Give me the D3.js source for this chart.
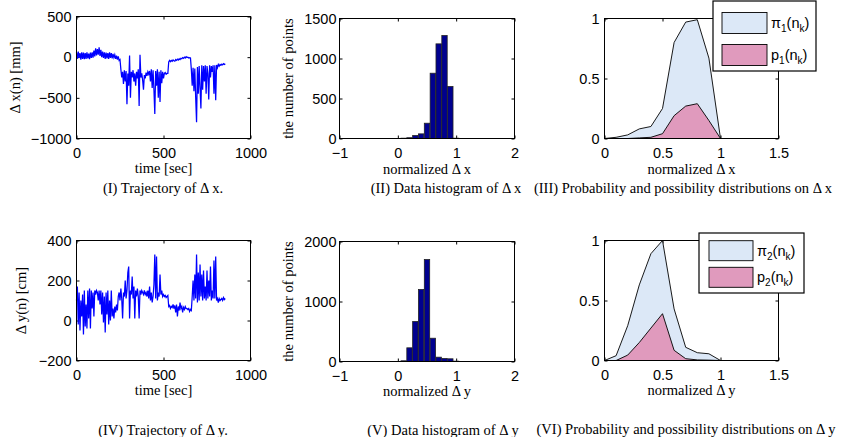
<!DOCTYPE html>
<html><head><meta charset="utf-8">
<script src="https://cdn.jsdelivr.net/npm/d3@7"></script>
<style>body{margin:0;background:#fff}svg{display:block}</style>
</head><body>
<svg id="c" width="848" height="437"></svg>
<script>
// ---------------- DATA ----------------
const timeStep = 5; // seconds between samples
const dxTrajectory = [60,-20,70,-10,50,-30,60,-20,55,-25,50,-20,60,-15,45,-25,55,-10,60,-5,
 80,10,110,20,100,30,120,15,90,0,70,
 -10,60,-20,55,-15,50,-20,60,-10,50,-15,40,-5,30,-20,20,-30,10,-40,-30,
 -150,-250,-180,-330,-160,-300,-170,-580,-200,-350,20,-500,-180,-250,-160,-300,-200,-350,-180,-260,-150,-600,30,
 -250,-200,-280,-400,-220,-260,-190,-230,-180,-210,-170,-300,-150,-380,-160,-400,-700,-170,-350,-150,-500,-180,-550,-160,-320,-180,
 -260,-200,-190,-210,-200,-200,
 -60,-40,-55,-40,-50,-35,-45,-50,-30,-40,-25,-35,-20,-30,-15,-20,-5,-15,0,-10,5,-5,0,-10,-5,-10,
 -150,-350,-130,-420,-140,-500,-800,-120,-450,-110,-380,-630,-100,-400,-110,-300,-100,-450,-110,-200,-520,-100,-250,-110,-180,-100,-450,-100,-530,
 -95,-130,-90,-110,-90,-100,-85,-95,-80,-90,-80];
const dyTrajectory = [100,170,-20,140,-50,100,20,130,-70,150,-30,80,-40,150,10,160,-40,150,60,140,
 20,150,130,150,140,100,150,80,150,30,140,
 -10,120,-60,140,30,150,-20,100,0,150,20,60,10,70,40,80,50,
 120,140,100,160,110,10,140,120,200,110,150,240,270,10,150,130,220,110,170,10,150,120,160,120,10,150,
 130,150,140,130,150,130,140,120,150,110,170,100,140,90,120,180,330,110,320,100,140,120,230,130,150,120,
 130,120,125,115,120,125,
 70,75,60,70,65,80,60,75,40,80,20,70,50,90,60,70,40,65,55,70,60,60,55,60,45,55,50,
 120,200,100,230,110,330,90,240,100,280,120,230,100,250,110,170,100,250,110,200,120,270,100,150,110,300,110,320,
 100,110,90,110,100,105,110,100,115,105,110];

const histBinCenters = [0.1,0.2,0.3,0.4,0.5,0.6,0.7,0.8,0.9,1.0];
const histCountsX = [4,10,37,58,191,816,1183,1287,650,4];
const histCountsY = [12,228,667,1200,1700,388,72,50,45,6];

const distX = [0,0.1,0.2,0.3,0.4,0.5,0.6,0.7,0.8,0.9,1.0,1.1];
const possibilityX = [0,0.01,0.03,0.08,0.1,0.25,0.8,0.97,0.99,0.67,0,0];
const probabilityX = [0,0,0,0.005,0.01,0.04,0.19,0.27,0.29,0.15,0,0];
const possibilityY = [0,0.04,0.29,0.63,0.89,1.0,0.43,0.11,0.065,0.056,0,0];
const probabilityY = [0,0,0.045,0.15,0.27,0.39,0.085,0.015,0.005,0.003,0,0];

const trajTicksX = [0,500,1000];
const trajTicksYx = [500,0,-500,-1000];
const trajTicksYy = [400,200,0,-200];
const histTicksX = [-1,0,1,2];
const histTicksYx = [0,500,1000,1500];
const histTicksYy = [0,1000,2000];
const distTicksX = [0,0.5,1,1.5];
const distTicksY = [0,0.5,1];

// ---------------- DRAW ----------------
const svg = d3.select('#c');
const SANS = '"Liberation Sans", Arial, Helvetica, sans-serif';
const SERIF = '"Liberation Serif", "Times New Roman", serif';
const FS = 14.5;
const FSS = 14.5;
const fmt = d => (d < 0 ? '\u2212' : '') + Math.abs(d);

function frame(box, xd, yd, xt, yt, padL) {
  const x = d3.scaleLinear().domain(xd).range([box.x0, box.x1]);
  const y = d3.scaleLinear().domain(yd).range([box.y1, box.y0]);
  const g = svg.append('g');
  const style = sel => {
    sel.select('.domain').remove();
    sel.selectAll('line').attr('stroke', '#000');
    sel.selectAll('text').attr('font-family', SANS).attr('font-size', FS).attr('fill', '#000');
  };
  g.append('g').attr('transform', `translate(0,${box.y1})`)
    .call(d3.axisBottom(x).tickValues(xt).tickSize(-3).tickPadding(9).tickFormat(fmt)).call(style);
  g.append('g').attr('transform', `translate(0,${box.y0})`)
    .call(d3.axisTop(x).tickValues(xt).tickSize(-3).tickFormat('')).call(style);
  g.append('g').attr('transform', `translate(${box.x0},0)`)
    .call(d3.axisLeft(y).tickValues(yt).tickSize(-3).tickPadding(padL).tickFormat(fmt)).call(style);
  g.append('g').attr('transform', `translate(${box.x1},0)`)
    .call(d3.axisRight(y).tickValues(yt).tickSize(-3).tickFormat('')).call(style);
  return {x, y, g};
}
function box(sel, b) {
  svg.append('rect').attr('x', b.x0).attr('y', b.y0).attr('width', b.x1 - b.x0).attr('height', b.y1 - b.y0)
    .attr('fill', 'none').attr('stroke', '#000').attr('stroke-width', 1);
}
function serifText(x, y, txt, rot) {
  const t = svg.append('text').attr('font-family', SERIF).attr('font-size', FSS).attr('fill', '#000')
    .attr('text-anchor', 'middle').text(txt);
  if (rot) t.attr('transform', `translate(${x},${y}) rotate(-90)`).attr('dominant-baseline', 'central');
  else t.attr('x', x).attr('y', y);
}

// Trajectory panels
function trajectory(b, data, yd, yt, ylab, cap, rowY) {
  const {x, y} = frame(b, [0, 1000], yd, trajTicksX, yt, 5);
  svg.append('path').datum(data)
    .attr('d', d3.line().x((d, i) => x(i * timeStep)).y(d => y(d)))
    .attr('fill', 'none').attr('stroke', '#0000ff').attr('stroke-width', 1.25);
  box(svg, b);
  serifText((b.x0 + b.x1) / 2, rowY.xl, 'time [sec]');
  serifText(rowY.yl, (b.y0 + b.y1) / 2, ylab, true);
  serifText(163, rowY.cap, cap);
}
trajectory({x0: 76.5, x1: 250.5, y0: 16.5, y1: 138.5}, dxTrajectory, [-1000, 500], trajTicksYx,
  '\u0394 x(n) [mm]', '(I) Trajectory of \u0394 x.', {xl: 173, yl: 15, cap: 193});
trajectory({x0: 76.5, x1: 250.5, y0: 240.5, y1: 360.5}, dyTrajectory, [-200, 400], trajTicksYy,
  '\u0394 y(n) [cm]', '(IV) Trajectory of \u0394 y.', {xl: 395, yl: 21, cap: 435});

// Histogram panels
function histogram(b, counts, yd, yt, xlab, cap, rowY, capX) {
  const {x, y} = frame(b, [-1, 2], yd, histTicksX, yt, 3);
  const bw = (x(0.1) - x(0)) * 0.92;
  svg.append('line').attr('x1', x(-1)).attr('x2', x(2)).attr('y1', y(0)).attr('y2', y(0))
    .attr('stroke', '#000').attr('stroke-width', 1.2);
  svg.append('g').selectAll('rect').data(histBinCenters).join('rect')
    .attr('x', (d) => x(d) - bw / 2).attr('width', bw)
    .attr('y', (d, i) => y(counts[i])).attr('height', (d, i) => y(0) - y(counts[i]))
    .attr('fill', '#00008f').attr('stroke', '#222').attr('stroke-width', 0.8);
  box(svg, b);
  serifText((b.x0 + b.x1) / 2, rowY.xl, xlab);
  serifText(rowY.yl, (b.y0 + b.y1) / 2, 'the number of points', true);
  serifText(capX, rowY.cap, cap);
}
histogram({x0: 339.5, x1: 514.5, y0: 18.5, y1: 138.5}, histCountsX, [0, 1500], histTicksYx,
  'normalized \u0394 x', '(II) Data histogram of \u0394 x', {xl: 174, yl: 288, cap: 193}, 446);
histogram({x0: 339.5, x1: 514.5, y0: 241.5, y1: 361.5}, histCountsY, [0, 2000], histTicksYy,
  'normalized \u0394 y', '(V) Data histogram of \u0394 y', {xl: 396, yl: 288, cap: 435}, 443);

// Distribution panels
function distribution(b, poss, prob, xlab, cap, rowY, leg, idx) {
  const {x, y} = frame(b, [0, 1.5], [0, 1], distTicksX, distTicksY, 5);
  const area = d3.area().x((d, i) => x(distX[i])).y0(y(0)).y1(d => y(d));
  svg.append('path').datum(poss).attr('d', area).attr('fill', '#dce8f7').attr('stroke', '#000').attr('stroke-width', 0.9);
  svg.append('path').datum(prob).attr('d', area).attr('fill', '#e09abd').attr('stroke', '#000').attr('stroke-width', 0.9);
  box(svg, b);
  serifText((b.x0 + b.x1) / 2, rowY.xl, xlab);
  serifText(cap.x, rowY.cap, cap.t);
  // legend
  const lg = svg.append('g');
  lg.append('rect').attr('x', leg.x0).attr('y', leg.y0).attr('width', leg.x1 - leg.x0).attr('height', leg.y1 - leg.y0)
    .attr('fill', '#fff').attr('stroke', '#000').attr('stroke-width', 1.2);
  const entries = [{sym: '\u03c0', fill: '#dce8f7'}, {sym: 'p', fill: '#e09abd'}];
  entries.forEach((e, k) => {
    const cy = leg.cy[k];
    lg.append('rect').attr('x', leg.sx0).attr('y', cy - leg.sh / 2).attr('width', leg.sx1 - leg.sx0).attr('height', leg.sh)
      .attr('fill', e.fill).attr('stroke', '#000').attr('stroke-width', 0.9);
    const t = lg.append('text').attr('x', leg.tx).attr('y', cy + 5).attr('font-family', SANS).attr('font-size', FS).attr('fill', '#000');
    t.append('tspan').text(e.sym);
    t.append('tspan').attr('font-size', 10).attr('dy', 4).text(idx);
    t.append('tspan').attr('dy', -4).text('(n');
    t.append('tspan').attr('font-size', 10).attr('dy', 4).text('k');
    t.append('tspan').attr('dy', -4).text(')');
  });
}
distribution({x0: 604.5, x1: 778.5, y0: 18.5, y1: 138.5}, possibilityX, probabilityX, 'normalized \u0394 x',
  {x: 683, t: '(III) Probability and possibility distributions on \u0394 x'}, {xl: 174, cap: 193},
  {x0: 713, x1: 816, y0: 1, y1: 71, sx0: 722, sx1: 767, sh: 21, cy: [23, 55], tx: 771}, '1');
distribution({x0: 604.5, x1: 778.5, y0: 240.5, y1: 360.5}, possibilityY, probabilityY, 'normalized \u0394 y',
  {x: 686, t: '(VI) Probability and possibility distributions on \u0394 y'}, {xl: 395, cap: 434},
  {x0: 699, x1: 804, y0: 233, y1: 293, sx0: 709, sx1: 753, sh: 20, cy: [250.7, 277.3], tx: 757}, '2');
</script>
</body></html>
